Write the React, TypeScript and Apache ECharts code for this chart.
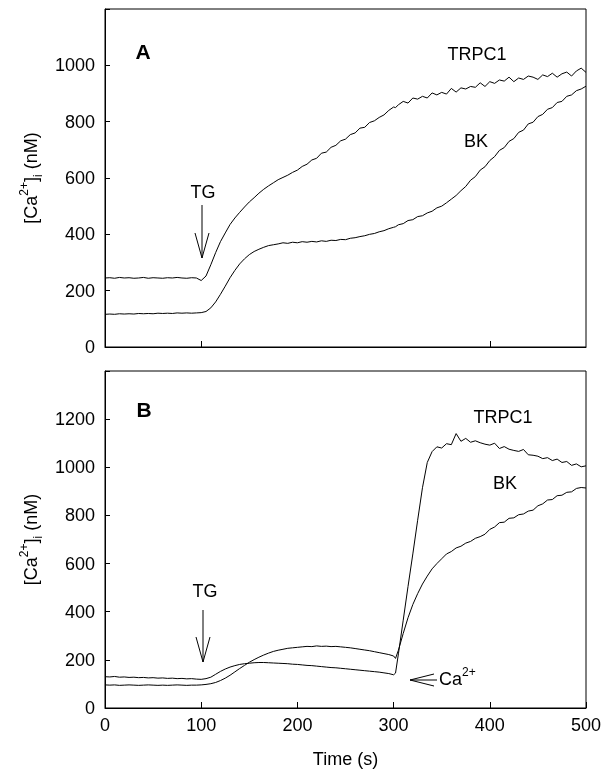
import React, { useEffect, useRef } from "react";
import * as echarts from "echarts";

const FONT = '"Liberation Sans", Arial, Helvetica, sans-serif';

// Time points (s)
const TIMES = [
  0, 5, 10, 15, 20, 25, 30, 35, 40, 45, 50, 55, 60, 65, 70, 75, 80, 85, 90, 95,
  100, 105, 110, 115, 120, 125, 130, 135, 140, 145, 150, 155, 160, 165, 170, 175, 180, 185, 190, 195,
  200, 205, 210, 215, 220, 225, 230, 235, 240, 245, 250, 255, 260, 265, 270, 275, 280, 285, 290, 295,
  300, 302, 305, 310, 315, 320, 325, 330, 335, 340, 345, 350, 355, 360, 365, 370, 375, 380, 385, 390, 395,
  400, 405, 410, 415, 420, 425, 430, 435, 440, 445, 450, 455, 460, 465, 470, 475, 480, 485, 490, 495, 500,
];

// Panel A
const TRPC1_A = [
  245, 246, 244, 247, 245, 246, 244, 245, 247, 244, 246, 245, 244, 246, 245, 247, 245, 244, 246, 245,
  236, 252, 292, 335, 374, 405, 435, 458, 478, 497, 515, 530, 546, 560, 572, 583, 594, 602, 610, 620,
  628, 641, 649, 664, 670, 688, 692, 709, 716, 732, 738, 754, 760, 777, 780, 797, 803, 815, 824, 840,
  852, 850, 860, 872, 866, 884, 880, 890, 884, 902, 895, 904, 898, 918, 905, 920, 916, 925, 922, 938, 925,
  942, 936, 948, 944, 958, 942, 955, 950, 962, 958, 950, 966, 960, 972, 958, 970, 976, 962, 980, 990, 975,
];
const BK_A = [
  116, 117, 116, 118, 117, 118, 117, 119, 118, 119, 118, 120, 119, 120, 119, 121, 120, 121, 120, 121,
  122, 126, 139, 160, 187, 216, 246, 272, 295, 313, 328, 339, 347, 354, 360, 363, 366, 370, 368, 372,
  370, 374, 372, 375, 373, 377, 375, 379, 378, 382, 381, 386, 388, 392, 395, 400, 403, 409, 413, 420,
  425, 427, 434, 438, 449, 452, 463, 466, 476, 482, 494, 500, 512, 525, 538, 555, 570, 592, 605, 628, 640,
  662, 676, 698, 708, 730, 740, 762, 770, 792, 798, 818, 826, 844, 850, 868, 872, 890, 895, 910, 916, 926,
];

// Panel B
const TRPC1_B = [
  130, 129, 131, 128, 129, 127, 128, 126, 127, 125, 126, 124, 125, 123, 124, 122, 123, 121, 122, 120,
  119, 122, 128, 140, 152, 162, 170, 176, 181, 184, 186, 188, 189, 189, 188, 187, 186, 185, 184, 182,
  181, 179, 177, 176, 174, 172, 170, 168, 167, 165, 163, 161, 159, 157, 155, 153, 151, 149, 146, 143,
  138, 145, 225, 365, 505, 640, 780, 915, 1020, 1065, 1085, 1080, 1098, 1094, 1140, 1108, 1120, 1104, 1110, 1102, 1096,
  1092, 1100, 1078, 1086, 1075, 1070, 1066, 1074, 1052, 1050, 1046, 1036, 1040, 1028, 1034, 1020, 1024, 1008, 1014, 1002, 1006,
];
const BK_B = [
  96, 95, 96, 94, 95, 96, 95, 94, 95, 96, 95, 94, 95, 94, 95, 96, 95, 94, 95, 95,
  96, 98, 101, 106, 114, 124, 136, 150, 164, 177, 190, 201, 211, 220, 228, 235, 240, 244, 248, 250,
  252, 254, 256, 255, 258, 256, 257, 255, 256, 254, 252, 250, 247, 244, 241, 238, 234, 230, 226, 222,
  216, 206, 240, 310, 375, 430, 475, 515, 548, 578, 600, 620, 640, 650, 665, 672, 685, 692, 705, 712, 722,
  742, 752, 770, 772, 788, 790, 803, 806, 818, 822, 840, 848, 864, 866, 882, 884, 896, 898, 912, 916, 914,
];

const X_TICKS_A = [100, 400];
const Y_LABELS_A = [0, 200, 400, 600, 800, 1000];
const Y_LABELS_B = [0, 200, 400, 600, 800, 1000, 1200];

const pairs = (vals: number[]) => TIMES.map((t, i) => [t, vals[i]]);

const Y_NAME = "{b|[Ca}{s|2+}{b|]}{u|i}{b| (nM)}";
const nameRich = {
  b: { fontSize: 18, fontFamily: FONT, color: "#000", lineHeight: 26 },
  s: { fontSize: 12, fontFamily: FONT, color: "#000", lineHeight: 26, verticalAlign: "top" },
  u: { fontSize: 12, fontFamily: FONT, color: "#000", lineHeight: 26, verticalAlign: "bottom" },
};

export default function App() {
  const ref = useRef<HTMLDivElement>(null);
  useEffect(() => {
    if (!ref.current) return;
    const chart = echarts.init(ref.current, null, { renderer: "svg" });
    const lineSeries = (name: string, vals: number[], idx: number) => ({
      name,
      type: "line",
      xAxisIndex: idx,
      yAxisIndex: idx,
      data: pairs(vals),
      showSymbol: false,
      symbol: "none",
      lineStyle: { color: "#000", width: 1 },
      itemStyle: { color: "#000" },
      silent: true,
    });
    const yAxisBase = (idx: number, max: number, labels: number[]) => ({
      type: "value",
      gridIndex: idx,
      min: 0,
      max,
      interval: 200,
      name: Y_NAME,
      nameLocation: "middle",
      nameGap: 58,
      nameRotate: 90,
      nameTextStyle: { rich: nameRich, fontFamily: FONT, color: "#000" },
      axisLine: { show: true, lineStyle: { color: "#000", width: 1 } },
      axisTick: { show: true, inside: true, length: 5, lineStyle: { color: "#000" } },
      axisLabel: {
        show: true,
        margin: 10,
        color: "#000",
        fontSize: 18,
        fontFamily: FONT,
        customValues: labels,
        formatter: (v: number) => String(v),
      },
      splitLine: { show: false },
    });
    const textEl = (text: string, x: number, y: number, size = 18, bold = false) => ({
      type: "text",
      x,
      y,
      style: {
        text,
        fill: "#000",
        font: `${bold ? "bold " : ""}${size}px ${FONT}`,
        align: "center",
        verticalAlign: "middle",
      },
      silent: true,
    });
    const seg = (points: number[][]) => ({
      type: "polyline",
      shape: { points },
      style: { stroke: "#000", lineWidth: 1, fill: "none" },
      silent: true,
    });

    chart.setOption({
      animation: false,
      grid: [
        { left: 105, right: 26, top: 9, height: 338, show: true, borderColor: "#000", borderWidth: 1, backgroundColor: "transparent" },
        { left: 105, right: 26, top: 371, height: 337, show: true, borderColor: "#000", borderWidth: 1, backgroundColor: "transparent" },
      ],
      xAxis: [
        {
          type: "value",
          gridIndex: 0,
          min: 0,
          max: 500,
          interval: 100,
          axisLine: { show: true, lineStyle: { color: "#000" } },
          axisTick: { show: true, inside: true, length: 6, lineStyle: { color: "#000" }, customValues: X_TICKS_A },
          axisLabel: { show: false },
          splitLine: { show: false },
        },
        {
          type: "value",
          gridIndex: 1,
          min: 0,
          max: 500,
          interval: 100,
          name: "Time (s)",
          nameLocation: "middle",
          nameGap: 42,
          nameTextStyle: { fontSize: 18, fontFamily: FONT, color: "#000" },
          axisLine: { show: true, lineStyle: { color: "#000" } },
          axisTick: { show: true, inside: true, length: 6, lineStyle: { color: "#000" } },
          axisLabel: { show: true, margin: 8, fontSize: 18, fontFamily: FONT, color: "#000" },
          splitLine: { show: false },
        },
      ],
      yAxis: [yAxisBase(0, 1200, Y_LABELS_A), yAxisBase(1, 1400, Y_LABELS_B)],
      series: [
        lineSeries("TRPC1 A", TRPC1_A, 0),
        lineSeries("BK A", BK_A, 0),
        lineSeries("TRPC1 B", TRPC1_B, 1),
        lineSeries("BK B", BK_B, 1),
      ],
      graphic: [
        textEl("A", 143, 51, 21, true),
        textEl("B", 144, 409, 21, true),
        textEl("TRPC1", 477, 54),
        textEl("BK", 476, 141),
        textEl("TRPC1", 503, 417),
        textEl("BK", 505, 483),
        textEl("TG", 203, 192),
        seg([[202, 205], [202, 258]]),
        seg([[195, 233], [202, 258], [209, 233]]),
        textEl("TG", 205, 591),
        seg([[203, 610], [203, 662]]),
        seg([[196, 637], [203, 662], [210, 637]]),
        seg([[410, 680], [437, 680]]),
        seg([[434, 674], [410, 680], [434, 686]]),
        {
          type: "text",
          x: 439,
          y: 679,
          style: {
            text: "{b|Ca}{s|2+}",
            rich: nameRich,
            align: "left",
            verticalAlign: "middle",
          },
          silent: true,
        },
      ],
    });
    return () => chart.dispose();
  }, []);
  return <div ref={ref} style={{ position: "fixed", left: 0, top: 0, width: 612, height: 773 }} />;
}
